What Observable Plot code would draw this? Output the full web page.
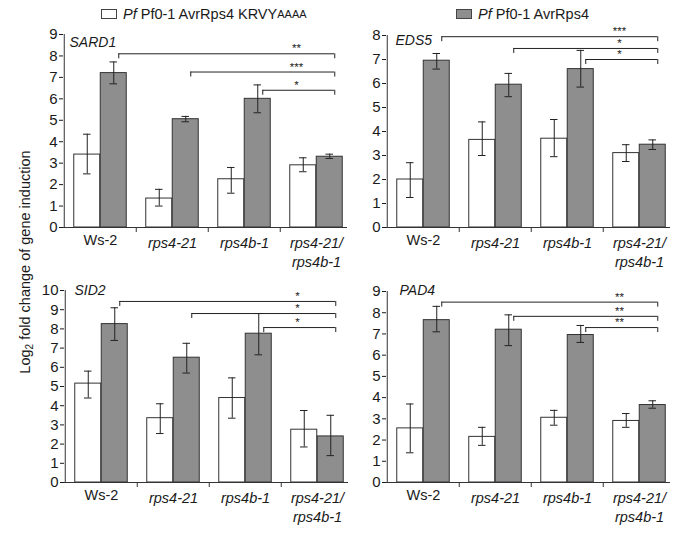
<!DOCTYPE html>
<html><head><meta charset="utf-8">
<script src="https://cdn.jsdelivr.net/npm/d3@7"></script>
<script src="https://cdn.jsdelivr.net/npm/@observablehq/plot@0.6"></script>
<style>
body{margin:0;background:#fff;font-family:"Liberation Sans",Arial,sans-serif;color:#1a1a1a;}
#wrap{position:relative;width:688px;height:534px;overflow:hidden;}
.panel{position:absolute;}
.leg{position:absolute;top:6px;font-size:14.5px;white-space:nowrap;display:flex;align-items:center;}
.sw{display:inline-block;width:14px;height:8px;border:1px solid #444;margin-right:6px;}
#ylab{position:absolute;left:25px;top:262px;transform:translate(-50%,-50%) rotate(-90deg);font-size:14.5px;white-space:nowrap;}
sup{font-size:11px;vertical-align:6px;line-height:0;}
sub{font-size:10px;vertical-align:-3px;line-height:0;}
</style></head><body>
<div id="wrap">
  <div class="leg" style="left:101px;"><span class="sw" style="background:#fff"></span><i>Pf</i>&nbsp;Pf0-1 AvrRps4 KRVY<sup>AAAA</sup></div>
  <div class="leg" style="left:456px;"><span class="sw" style="background:#8e8e8e"></span><i>Pf</i>&nbsp;Pf0-1 AvrRps4</div>
  <div id="ylab">Log<sub>2</sub> fold change of gene induction</div>
</div>
<script>
const GROUPS = ["Ws-2", "rps4-21", "rps4b-1", "rps4-21/rps4b-1"];
const X_LABELS = ["Ws-2", "rps4-21", "rps4b-1", "rps4-21/\nrps4b-1"];
const BRACKET_FROM = ["Ws-2", "rps4-21", "rps4b-1"];

// SARD1
const sard1White = [3.4, 1.35, 2.25, 2.9];
const sard1WhiteLo = [2.5, 1.0, 1.6, 2.6];
const sard1WhiteHi = [4.35, 1.78, 2.8, 3.25];
const sard1Gray = [7.2, 5.05, 6.0, 3.3];
const sard1GrayLo = [6.7, 4.93, 5.35, 3.22];
const sard1GrayHi = [7.72, 5.18, 6.65, 3.42];
const sard1Levels = [8.1, 7.25, 6.4];
const sard1Labels = ["**", "***", "*"];

// EDS5
const eds5White = [2.0, 3.65, 3.7, 3.1];
const eds5WhiteLo = [1.25, 3.0, 2.95, 2.75];
const eds5WhiteHi = [2.7, 4.4, 4.5, 3.45];
const eds5Gray = [6.95, 5.95, 6.6, 3.45];
const eds5GrayLo = [6.6, 5.45, 5.85, 3.25];
const eds5GrayHi = [7.25, 6.42, 7.38, 3.65];
const eds5Levels = [7.95, 7.46, 7.0];
const eds5Labels = ["***", "*", "*"];

// SID2
const sid2White = [5.15, 3.35, 4.4, 2.75];
const sid2WhiteLo = [4.4, 2.55, 3.35, 1.85];
const sid2WhiteHi = [5.8, 4.1, 5.45, 3.75];
const sid2Gray = [8.25, 6.5, 7.75, 2.4];
const sid2GrayLo = [7.4, 5.7, 6.65, 1.4];
const sid2GrayHi = [9.1, 7.25, 8.8, 3.5];
const sid2Levels = [9.43, 8.8, 8.07];
const sid2Labels = ["*", "*", "*"];

// PAD4
const pad4White = [2.55, 2.15, 3.05, 2.9];
const pad4WhiteLo = [1.4, 1.75, 2.7, 2.6];
const pad4WhiteHi = [3.7, 2.6, 3.4, 3.25];
const pad4Gray = [7.65, 7.2, 6.95, 3.65];
const pad4GrayLo = [7.1, 6.45, 6.6, 3.5];
const pad4GrayHi = [8.3, 7.9, 7.4, 3.85];
const pad4Levels = [8.5, 7.83, 7.3];
const pad4Labels = ["**", "**", "**"];

const BW = 72.5, BAR = 26.5, SIDE = (BW - 2 * BAR) / 2;
const WC = SIDE + BAR / 2, GC = SIDE + BAR + BAR / 2; // centers within band
const CAP = 4, BRK = GC + 5;

function makePanel(p) {
  const rows = GROUPS.map((grp, i) => ({grp, w: p.white[i], wlo: p.whiteLo[i], whi: p.whiteHi[i], g: p.gray[i], glo: p.grayLo[i], ghi: p.grayHi[i]}));
  const br = BRACKET_FROM.map((f, i) => ({from: f, to: GROUPS[3], level: p.levels[i], label: p.labels[i]}));
  const ink = "#333";
  const chart = Plot.plot({
    width: 340, height: p.height,
    marginLeft: 40, marginRight: 10, marginTop: p.mt, marginBottom: p.height - p.mt - p.ph,
    x: {domain: GROUPS, padding: 0, axis: null},
    y: {domain: [0, p.ymax], axis: null},
    style: {fontFamily: '"Liberation Sans", Arial, sans-serif', color: "#1a1a1a", background: "transparent", overflow: "visible"},
    marks: [
      Plot.axisY(d3.range(0, p.ymax + 1), {tickSize: 4, tickPadding: 2, fontSize: 15, label: null}),
      Plot.text(["Ws-2"], {x: d => d, frameAnchor: "bottom", lineAnchor: "top", dy: 7, fontSize: 14.5, fill: "#1a1a1a"}),
      Plot.text(GROUPS.slice(1), {x: d => d, frameAnchor: "bottom", lineAnchor: "top", dy: 7, fontSize: 14.5, fontStyle: "italic", fontWeight: "normal", lineHeight: 1.3, fill: "#1a1a1a",
        text: d => X_LABELS[GROUPS.indexOf(d)]}),
      Plot.ruleX([GROUPS[0]], {x: d => d, y1: 0, y2: p.ymax, dx: -BW / 2, stroke: ink}),
      Plot.ruleX(GROUPS.slice(1), {x: d => d, y1: 0, y2: 0, dx: -BW / 2, insetBottom: -5, stroke: ink}),
      Plot.barY(rows, {x: "grp", y: "w", fill: "#fff", stroke: ink, strokeWidth: 1, insetLeft: SIDE, insetRight: BW - SIDE - BAR}),
      Plot.barY(rows, {x: "grp", y: "g", fill: "#8e8e8e", stroke: ink, strokeWidth: 1, insetLeft: SIDE + BAR, insetRight: SIDE}),
      Plot.ruleY([0], {stroke: ink, insetRight: 6}),
      Plot.ruleX(rows, {x: "grp", y1: "wlo", y2: "whi", dx: WC - BW / 2, stroke: "#222"}),
      Plot.tickY(rows, {x: "grp", y: "wlo", insetLeft: WC - CAP, insetRight: BW - WC - CAP, stroke: "#222"}),
      Plot.tickY(rows, {x: "grp", y: "whi", insetLeft: WC - CAP, insetRight: BW - WC - CAP, stroke: "#222"}),
      Plot.ruleX(rows, {x: "grp", y1: "glo", y2: "ghi", dx: GC - BW / 2, stroke: "#222"}),
      Plot.tickY(rows, {x: "grp", y: "glo", insetLeft: GC - CAP, insetRight: BW - GC - CAP, stroke: "#222"}),
      Plot.tickY(rows, {x: "grp", y: "ghi", insetLeft: GC - CAP, insetRight: BW - GC - CAP, stroke: "#222"}),
      Plot.ruleY(br, {x1: "from", x2: "to", y: "level", insetLeft: BRK, insetRight: BW - BRK, stroke: "#222"}),
      Plot.ruleX(br, {x: "from", y1: "level", y2: "level", dx: BRK - BW / 2, insetBottom: -5, stroke: "#222"}),
      Plot.ruleX(br, {x: "to", y1: "level", y2: "level", dx: BRK - BW / 2, insetBottom: -5, stroke: "#222"}),
      Plot.text(br, {x: "to", y: "level", text: "label", dx: -20, dy: -5, fontSize: 11.5, fill: "#222"}),
      Plot.text([p.gene], {frameAnchor: "top-left", dx: p.gx, dy: p.gy, fontSize: 14, fontStyle: "italic", lineAnchor: "top"})
    ]
  });
  chart.classList.add("panel");
  chart.style.left = p.left + "px";
  chart.style.top = p.top + "px";
  document.getElementById("wrap").appendChild(chart);
}

makePanel({gene: "SARD1", white: sard1White, whiteLo: sard1WhiteLo, whiteHi: sard1WhiteHi, gray: sard1Gray, grayLo: sard1GrayLo, grayHi: sard1GrayHi, levels: sard1Levels, labels: sard1Labels,
  ymax: 9, left: 23, top: 0, height: 277, mt: 34, ph: 193, gx: 6, gy: 3});
makePanel({gene: "EDS5", white: eds5White, whiteLo: eds5WhiteLo, whiteHi: eds5WhiteHi, gray: eds5Gray, grayLo: eds5GrayLo, grayHi: eds5GrayHi, levels: eds5Levels, labels: eds5Labels,
  ymax: 8, left: 346, top: 0, height: 277, mt: 35, ph: 192, gx: 9, gy: 0});
makePanel({gene: "SID2", white: sid2White, whiteLo: sid2WhiteLo, whiteHi: sid2WhiteHi, gray: sid2Gray, grayLo: sid2GrayLo, grayHi: sid2GrayHi, levels: sid2Levels, labels: sid2Labels,
  ymax: 10, left: 24, top: 258, height: 276, mt: 32, ph: 192, gx: 10, gy: -5});
makePanel({gene: "PAD4", white: pad4White, whiteLo: pad4WhiteLo, whiteHi: pad4WhiteHi, gray: pad4Gray, grayLo: pad4GrayLo, grayHi: pad4GrayHi, levels: pad4Levels, labels: pad4Labels,
  ymax: 9, left: 346, top: 258, height: 276, mt: 33, ph: 191, gx: 13, gy: -6});
</script>
</body></html>
